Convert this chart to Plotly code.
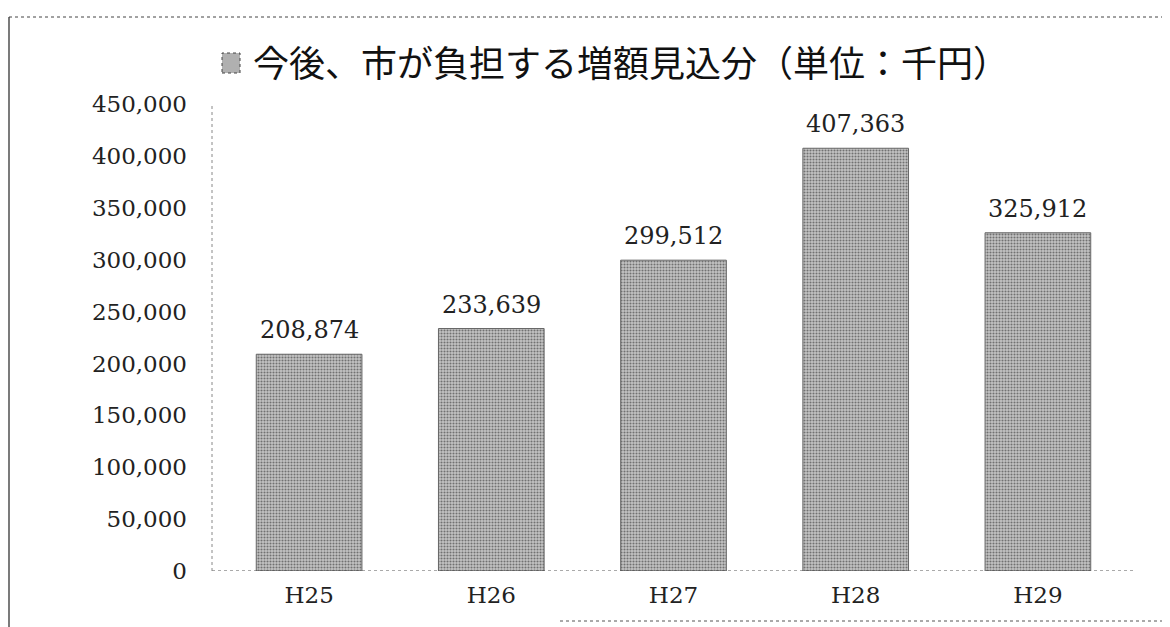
import plotly.graph_objects as go

categories = ["H25", "H26", "H27", "H28", "H29"]
values = [208874, 233639, 299512, 407363, 325912]
y_ticks = [0, 50000, 100000, 150000, 200000, 250000, 300000, 350000, 400000, 450000]
title_text = "今後、市が負担する増額見込分（単位：千円）"

W, H = 1170, 627
OFF = 8  # page body margin
L, R, T, B = 210, 49, 96, 64
PW, PH = W - L - R, H - T - B

def px(x):
    return (x - OFF - L) / PW

def py(y):
    return (H - B - (y - OFF)) / PH

serif = "DejaVu Serif, Liberation Serif, serif"

fig = go.Figure()
fig.add_trace(go.Bar(
    x=categories, y=values,
    marker=dict(
        color="#a0a0a0",
        line=dict(width=1, color="#666"),
        pattern=dict(shape=".", fgcolor="#1e1e1e", bgcolor="#c4c4c4", size=3, solidity=0.4),
    ),
    hoverinfo="skip",
))

for c, v in zip(categories, values):
    fig.add_annotation(x=c, y=v, xref="x", yref="y", text=f"{v:,}",
                       showarrow=False, yanchor="bottom", yshift=8,
                       font=dict(family=serif, size=24, color="#222"))

fig.update_layout(
    width=W, height=H,
    margin=dict(l=L, r=R, t=T, b=B),
    paper_bgcolor="white", plot_bgcolor="white",
    showlegend=False,
    bargap=0.42,
    xaxis=dict(showgrid=False, showline=False, ticks="",
               ticklabelstandoff=8,
               tickfont=dict(family=serif, size=23, color="#222")),
    yaxis=dict(range=[0, 450000], tickvals=y_ticks,
               ticktext=[f"{v:,}" for v in y_ticks],
               showgrid=False, zeroline=False, showline=False, ticks="",
               ticklabelstandoff=30,
               tickfont=dict(family=serif, size=23, color="#222")),
)

# dotted axis lines
fig.add_shape(type="line", xref="paper", yref="y", x0=px(212), x1=px(1135), y0=0, y1=0,
              line=dict(color="#555", width=1, dash="dot"))
fig.add_shape(type="line", xref="paper", yref="y", x0=px(212), x1=px(212), y0=0, y1=450000,
              line=dict(color="#888", width=1, dash="dot"))

# outer frame
fig.add_shape(type="line", xref="paper", yref="paper",
              x0=px(9), x1=px(1168), y0=py(17), y1=py(17),
              line=dict(color="#444", width=1, dash="dot"))
fig.add_shape(type="line", xref="paper", yref="paper",
              x0=px(9), x1=px(9), y0=py(17), y1=py(640),
              line=dict(color="#333", width=1.3))
fig.add_shape(type="line", xref="paper", yref="paper",
              x0=px(560), x1=px(1168), y0=py(621), y1=py(621),
              line=dict(color="#555", width=1, dash="dot"))

# small legend square before title
fig.add_shape(type="rect", xref="paper", yref="paper",
              x0=px(222), x1=px(240), y0=py(73), y1=py(53),
              fillcolor="#b0b0b0", line=dict(color="#444", width=1, dash="dot"))

fig.add_annotation(xref="paper", yref="paper",
                   x=px(251), y=py(61),
                   xanchor="left", yanchor="middle", showarrow=False,
                   text=title_text,
                   font=dict(family="Noto Sans CJK JP", size=36, color="#111"))

fig.write_html("out.html")
